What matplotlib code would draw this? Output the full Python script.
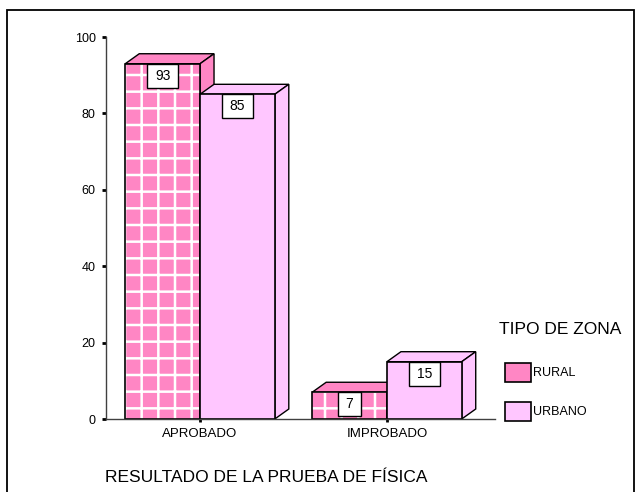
import numpy as np
import matplotlib.pyplot as plt
from matplotlib.patches import Rectangle

plt.rcParams['font.family'] = ['Liberation Sans', 'DejaVu Sans']
plt.rcParams['hatch.linewidth'] = 1.8

categorias = ["APROBADO", "IMPROBADO"]
zonas = ["RURAL", "URBANO"]
rural = [93, 7]
urbano = [85, 15]
colores = ["#ff86c4", "#ffc6ff"]

W, H = 636, 492
fig = plt.figure(figsize=(W / 100, H / 100), dpi=100)
ax = fig.add_axes([106 / W, 73 / H, 389 / W, 382 / H])
ax.set_xlim(-0.503, 1.578)
ax.set_ylim(0, 100)

# tamaño de un pixel en unidades de datos
px_x = (1.578 + 0.503) / 389
px_y = 100 / 382
dx, dy = 14 * px_x, 10 * px_y

x = np.arange(len(categorias))
ancho = 0.4


def barra_3d(xc, h, color, hatch):
    x0, x1 = xc - ancho / 2, xc + ancho / 2
    # lados
    ax.fill([x0, x0 + dx, x1 + dx, x1], [h, h + dy, h + dy, h],
            facecolor=color, edgecolor="black", lw=1, zorder=2)
    ax.fill([x1, x1 + dx, x1 + dx, x1], [0, dy, h + dy, h],
            facecolor=color, edgecolor="black", lw=1, zorder=2)
    if hatch:
        ax.bar(xc, h, ancho, color=color, edgecolor="white", hatch="+",
               lw=0, zorder=2)
    else:
        ax.bar(xc, h, ancho, color=color, lw=0, zorder=2)
    ax.bar(xc, h, ancho, facecolor="none", edgecolor="black", lw=1.2, zorder=2)
    # etiqueta
    txt = str(h)
    bw = (8 * len(txt) + 15) * px_x
    bh = 24 * px_y
    ax.add_patch(Rectangle((xc - bw / 2, h - bh), bw, bh, facecolor="white",
                           edgecolor="black", lw=1, zorder=3))
    ax.text(xc, h - bh / 2, txt, ha="center", va="center", fontsize=10, zorder=4)


for i in range(len(categorias)):
    barra_3d(x[i] - ancho / 2, rural[i], colores[0], True)
    barra_3d(x[i] + ancho / 2, urbano[i], colores[1], False)

for s in ["top", "right"]:
    ax.spines[s].set_visible(False)
for s in ["left", "bottom"]:
    ax.spines[s].set_color("#404040")
    ax.spines[s].set_linewidth(1)

ax.set_yticks([0, 20, 40, 60, 80, 100])
ax.set_xticks(x)
ax.set_xticklabels(categorias)
ax.tick_params(axis="y", length=3, width=2, pad=4.5, labelsize=9)
ax.tick_params(axis="x", length=2, width=2, pad=4.5, labelsize=9.5)

# leyenda
fig.text(499 / W, 1 - 330 / H, "TIPO DE ZONA", fontsize=12.5, ha="left", va="center")
for j, (nombre, col) in enumerate(zip(zonas, colores)):
    yt = 363 + 39 * j
    fig.add_artist(Rectangle((505 / W, 1 - (yt + 19) / H), 26 / W, 19 / H,
                             transform=fig.transFigure, facecolor=col,
                             edgecolor="black", lw=1.2))
    fig.text(533 / W, 1 - (yt + 10) / H, nombre, fontsize=9, ha="left", va="center")

fig.text(105 / W, 1 - 477 / H, "RESULTADO DE LA PRUEBA DE FÍSICA", fontsize=12.5,
         ha="left", va="center")

# marco
fig.add_artist(Rectangle((7 / W, -0.05), (634 - 7) / W, 1.05 - 10 / H,
                         transform=fig.transFigure, fill=False, lw=1.3,
                         edgecolor="black"))

fig.savefig("out.png", dpi=100)
